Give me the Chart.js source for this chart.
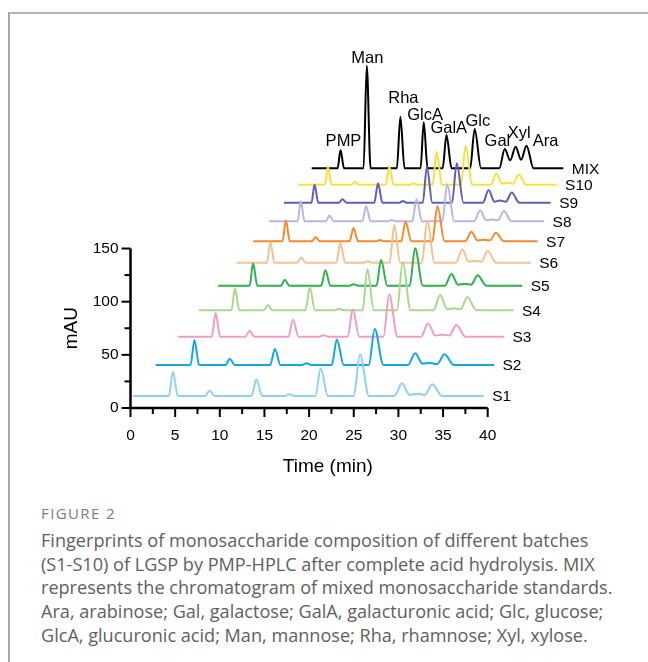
<!DOCTYPE html>
<html>
<head>
<meta charset="utf-8">
<script src="https://cdn.jsdelivr.net/npm/chart.js"></script>
<style>
  html, body { margin: 0; padding: 0; background: #fff; }
  body { width: 648px; height: 662px; position: relative; overflow: hidden; }
  #frame { position: absolute; left: 8px; top: 12px; width: 700px; height: 700px;
           border-left: 2px solid #a8a8a8; border-top: 2px solid #b4b4b4; }
  #wrap { position: absolute; left: 0; top: 0; width: 648px; height: 490px; }
  #cap { position: absolute; left: 41px; top: 505px; font-family: "Open Sans", sans-serif; color: #606060; }
  #cap .fig { font-size: 15px; line-height: 16px; color: #7c7c7c; letter-spacing: 1.4px; }
  #cap p { margin: 8px 0 0 0; font-size: 18.1px; line-height: 23.7px; white-space: nowrap; }
</style>
</head>
<body>
<div id="frame"></div>
<div id="wrap"><canvas id="graf" width="648" height="490"></canvas></div>
<div id="cap">
  <div class="fig">FIGURE 2</div>
  <p>Fingerprints of monosaccharide composition of different batches<br>(S1-S10) of LGSP by PMP-HPLC after complete acid hydrolysis. MIX<br>represents the chromatogram of mixed monosaccharide standards.<br>Ara, arabinose; Gal, galactose; GalA, galacturonic acid; Glc, glucose;<br>GlcA, glucuronic acid; Man, mannose; Rha, rhamnose; Xyl, xylose.</p>
</div>
<script>
// retention time grid (min), shared by all traces
const times = [0,
  4.05, 4.5, 5.05,
  8.1, 8.6, 9.2,
  13.3, 13.85, 14.5,
  17.0, 17.5, 18.1,
  20.45, 21.05, 21.85,
  24.75, 25.45, 26.45,
  29.3, 30.15, 31.0, 31.85, 32.7, 33.55, 34.65,
  39.3];

// peaks named in the MIX standard
const peakNames = ['PMP', 'Man', 'Rha', 'GlcA', 'GalA', 'Glc', 'Gal', 'Xyl', 'Ara'];
const peakTimes = [4.5, 8.6, 13.85, 17.5, 21.05, 25.45, 30.15, 31.85, 33.55];

// signal above baseline (mAU) at each time in the grid
const s1  = [0, 0,22.9,0, 0,5.0,0, 0,15.7,0, 0,1.6,0, 0,26.1,0, 0,39.2,0, 0,11.9,1.0,2.2,1.0,11.0,0, 0];
const s2  = [0, 0,23.5,0, 0,5.8,0, 0,15.1,0, 0,1.6,0, 0,24.0,0, 0,33.9,0, 0,11.0,1.2,2.0,1.0,10.1,0, 0];
const s3  = [0, 0,22.6,0, 0,5.6,0, 0,16.0,0, 0,1.4,0, 0,25.7,0, 0,39.8,0, 0,12.5,1.0,1.9,1.0,11.0,0, 0];
const s4  = [0, 0,20.7,0, 0,5.0,0, 0,21.4,0, 0,1.5,0, 0,38.6,0, 0,45.2,0, 0,14.4,1.0,1.9,1.0,12.5,0, 0];
const s5  = [0, 0,21.0,0, 0,5.6,0, 0,14.6,0, 0,1.5,0, 0,24.2,0, 0,35.2,0, 0,11.0,1.0,1.8,1.0,9.8,0, 0];
const s6  = [0, 0,19.3,0, 0,5.0,0, 0,18.8,0, 0,1.5,0, 0,35.5,0, 0,39.5,0, 0,12.7,1.0,1.8,1.0,11.3,0, 0];
const s7  = [0, 0,19.8,0, 0,4.0,0, 0,12.4,0, 0,1.2,0, 0,18.3,0, 0,32.9,0, 0,8.9,0.8,1.5,0.8,8.0,0, 0];
const s8  = [0, 0,19.0,0, 0,5.5,0, 0,14.1,0, 0,1.2,0, 0,20.7,0, 0,34.5,0, 0,10.5,0.9,1.6,0.9,9.6,0, 0];
const s9  = [0, 0,17.2,0, 0,3.2,0, 0,18.2,0, 0,1.6,0, 0,33.9,0, 0,37.0,0, 0,11.9,1.0,2.0,1.0,9.7,0, 0];
const s10 = [0, 0,16.9,0, 0,2.8,0, 0,16.9,0, 0,1.5,0, 0,31.0,0, 0,36.4,0, 0,10.6,1.0,1.8,1.0,9.7,0, 0];
const mix = [0, 0,17.2,0, 0,96.5,0, 0,48.5,0, 0,43.3,0, 0,31.3,0, 0,37.0,0, 0,18.2,7.5,20.3,8.0,21.3,0, 0];

// traces, front to back, with the offsets of the stacked view
const traceNames = ['S1', 'S2', 'S3', 'S4', 'S5', 'S6', 'S7', 'S8', 'S9', 'S10', 'MIX'];
const traceValues = [s1, s2, s3, s4, s5, s6, s7, s8, s9, s10, mix];
const baseline = [11.3, 40.4, 67.1, 91.9, 115.0, 136.6, 156.8, 175.6, 193.1, 210.0, 225.4];
const shiftX = [0.25, 2.82, 5.35, 7.67, 9.83, 11.89, 13.75, 15.54, 17.19, 18.79, 20.29];
const squeeze = [1.0, 0.964, 0.928, 0.896, 0.866, 0.838, 0.810, 0.783, 0.760, 0.736, 0.717];
const colors = ['#8ed1f3', '#14a6e0', '#f29cc3', '#aad68f', '#2db14c', '#f6c190',
                '#f7892d', '#b8b6e2', '#5b5fb6', '#f8e03e', '#000000'];

// axis ticks
const xTicks = [0, 2.5, 5, 7.5, 10, 12.5, 15, 17.5, 20, 22.5, 25, 27.5, 30, 32.5, 35, 37.5, 40];
const yTicks = [0, 25, 50, 75, 100, 125, 150];

const FONT = '"Liberation Sans", Arial, sans-serif';

const datasets = traceNames.map((name, i) => ({
  label: name,
  data: times.map((t, k) => ({ x: shiftX[i] + squeeze[i] * t, y: baseline[i] + traceValues[i][k] })),
  borderColor: colors[i],
  borderWidth: 2,
  pointRadius: 0,
  fill: false,
  cubicInterpolationMode: 'monotone',
  clip: false
}));

// axis lines, tick marks and titles
const axesPlugin = {
  id: 'axes',
  afterDatasetsDraw(chart) {
    const { ctx, scales: { x, y } } = chart;
    const x0 = x.getPixelForValue(0);
    const y0 = y.getPixelForValue(0);
    ctx.save();
    ctx.strokeStyle = '#000';
    ctx.lineWidth = 2.5;
    ctx.beginPath();
    ctx.moveTo(x0, y.getPixelForValue(150));
    ctx.lineTo(x0, y0);
    ctx.lineTo(x.getPixelForValue(40), y0);
    ctx.stroke();
    ctx.lineWidth = 2;
    x.ticks.forEach(t => {
      const p = x.getPixelForValue(t.value);
      const len = t.value % 5 === 0 ? 9 : 6;
      ctx.beginPath(); ctx.moveTo(p, y0); ctx.lineTo(p, y0 + len); ctx.stroke();
    });
    y.ticks.forEach(t => {
      const p = y.getPixelForValue(t.value);
      const len = t.value % 50 === 0 ? 9 : 6;
      ctx.beginPath(); ctx.moveTo(x0, p); ctx.lineTo(x0 - len, p); ctx.stroke();
    });
    ctx.fillStyle = '#000';
    ctx.font = '19px ' + FONT;
    ctx.textAlign = 'center';
    ctx.textBaseline = 'middle';
    ctx.fillText('Time (min)', x.getPixelForValue(22.1), y0 + 59);
    ctx.translate(72, (y0 + y.getPixelForValue(150)) / 2);
    ctx.rotate(-Math.PI / 2);
    ctx.fillText('mAU', 0, 0);
    ctx.restore();
  }
};

// trace names at line ends, peak names over the MIX trace
const labelNudge = [[3, -8.5], [0.5, -7.5], [3, -18.5], [1.3, -7.3], [2.3, -6.7], [3.2, -8], [-7.3, -7.5], [3.7, -13.4], [19, -4]];
const labelPlugin = {
  id: 'labels',
  afterDatasetsDraw(chart) {
    const ctx = chart.ctx;
    ctx.save();
    ctx.fillStyle = '#000';
    ctx.font = '15.5px ' + FONT;
    ctx.textAlign = 'left';
    ctx.textBaseline = 'middle';
    chart.data.datasets.forEach((ds, i) => {
      const pts = chart.getDatasetMeta(i).data;
      const last = pts[pts.length - 1];
      ctx.fillText(ds.label, last.x + 8.5, last.y + 1);
    });
    const mixPts = chart.getDatasetMeta(traceNames.indexOf('MIX')).data;
    ctx.font = '16.5px ' + FONT;
    ctx.textAlign = 'center';
    peakNames.forEach((name, j) => {
      const pt = mixPts[times.indexOf(peakTimes[j])];
      ctx.fillText(name, pt.x + labelNudge[j][0], pt.y + labelNudge[j][1]);
    });
    ctx.restore();
  }
};

new Chart(document.querySelector('#graf'), {
  type: 'line',
  data: { datasets },
  options: {
    responsive: false,
    animation: false,
    layout: { padding: { top: 46.5, right: 71, left: 0, bottom: 0 } },
    plugins: { legend: { display: false }, tooltip: { enabled: false } },
    scales: {
      x: {
        type: 'linear', min: 0, max: 50,
        afterBuildTicks: s => { s.ticks = xTicks.map(v => ({ value: v })); },
        afterFit: s => { s.height = 82; },
        grid: { display: false, drawTicks: false },
        border: { display: false },
        ticks: {
          autoSkip: false, maxRotation: 0, padding: 18, color: '#000',
          font: { family: FONT, size: 15.5 },
          callback: v => (v % 5 === 0 ? v : '')
        }
      },
      y: {
        type: 'linear', min: 0, max: 340,
        afterBuildTicks: s => { s.ticks = yTicks.map(v => ({ value: v })); },
        afterFit: s => { s.width = 130.5; },
        grid: { display: false, drawTicks: false },
        border: { display: false },
        ticks: {
          autoSkip: false, padding: 12, color: '#000',
          font: { family: FONT, size: 15.5 },
          callback: v => (v % 50 === 0 ? v : '')
        }
      }
    }
  },
  plugins: [axesPlugin, labelPlugin]
});
</script>
</body>
</html>
